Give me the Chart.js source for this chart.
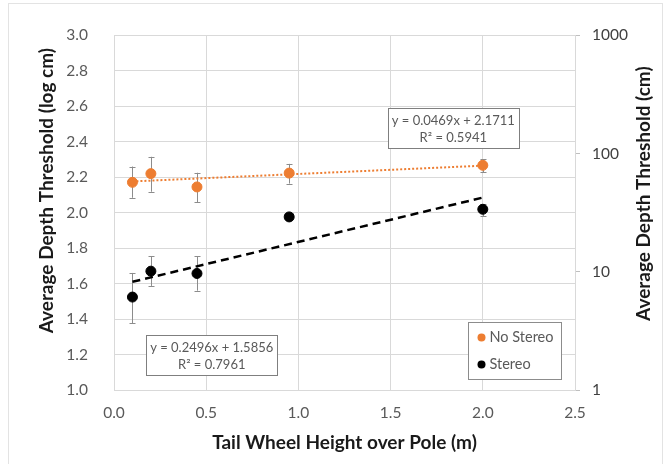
<!DOCTYPE html>
<html><head><meta charset="utf-8">
<script src="https://cdn.jsdelivr.net/npm/chart.js@4.4.0/dist/chart.umd.min.js"></script>
<style>
html,body{margin:0;padding:0;background:#fff;}
#wrap{position:relative;width:665px;height:464px;overflow:hidden;}
#frame{position:absolute;left:8px;top:3px;width:655px;height:470px;border:1px solid #e3e3e3;box-sizing:border-box;pointer-events:none;}
canvas{position:absolute;left:0;top:0;}
</style></head><body>
<div id="wrap"><canvas id="c" width="665" height="464"></canvas><div id="frame"></div></div>
<script>
// ---- data ----
const heights = [0.1, 0.2, 0.45, 0.95, 2.0];
const noStereo = [2.171, 2.220, 2.145, 2.223, 2.267];
const noStereoLow = [2.084, 2.118, 2.060, 2.164, 2.229];
const noStereoHigh = [2.260, 2.315, 2.225, 2.275, 2.300];
const stereo = [1.524, 1.670, 1.657, 1.976, 2.019];
const stereoLow = [1.376, 1.587, 1.560, 1.960, 1.980];
const stereoHigh = [1.660, 1.755, 1.755, 1.990, 2.048];
const trendX = [0.1, 2.0];
const noStereoTrend = [2.176, 2.265];
const stereoTrend = [1.610, 2.085];
const seriesNames = ['No Stereo', 'Stereo'];
const xTicks = [0, 0.5, 1.0, 1.5, 2.0, 2.5];
const xTickLabels = ['0.0', '0.5', '1.0', '1.5', '2.0', '2.5'];
const yTicks = [1.0, 1.2, 1.4, 1.6, 1.8, 2.0, 2.2, 2.4, 2.6, 2.8, 3.0];
const yTickLabels = ['1.0', '1.2', '1.4', '1.6', '1.8', '2.0', '2.2', '2.4', '2.6', '2.8', '3.0'];
const y2Ticks = [1, 10, 100, 1000];
const y2TickLabels = ['1', '10', '100', '1000'];
const xTitle = 'Tail Wheel Height over Pole (m)';
const yTitle = 'Average Depth Threshold (log cm)';
const y2Title = 'Average Depth Threshold (cm)';
const noStereoEq = ['y = 0.0469x + 2.1711', 'R\u00B2 = 0.5941'];
const stereoEq = ['y = 0.2496x + 1.5856', 'R\u00B2 = 0.7961'];

// ---- styles ----
const ORANGE = '#ED7D31';
const BLACK = '#000000';
const GRID = '#d9d9d9';
const TICK = '#595959';
const FONT = 'Lato';
const TITLE_SIZE = 19;
Chart.defaults.font.family = FONT;

const pts = (xs, ys) => xs.map((x, i) => ({x: x, y: ys[i]}));

const decor = {
  id: 'decor',
  beforeDatasetsDraw(chart) {
    const ctx = chart.ctx, xs = chart.scales.x, ys = chart.scales.y;
    const sets = [[noStereoLow, noStereoHigh], [stereoLow, stereoHigh]];
    ctx.save();
    ctx.strokeStyle = '#8c8c8c';
    ctx.lineWidth = 1;
    sets.forEach(([lo, hi]) => {
      heights.forEach((h, i) => {
        const x = Math.round(xs.getPixelForValue(h)) + 0.5;
        const y1 = ys.getPixelForValue(lo[i]);
        const y2 = ys.getPixelForValue(hi[i]);
        ctx.beginPath();
        ctx.moveTo(x, y1); ctx.lineTo(x, y2);
        ctx.moveTo(x - 3, Math.round(y1) + 0.5); ctx.lineTo(x + 3, Math.round(y1) + 0.5);
        ctx.moveTo(x - 3, Math.round(y2) + 0.5); ctx.lineTo(x + 3, Math.round(y2) + 0.5);
        ctx.stroke();
      });
    });
    ctx.restore();
  },
  afterDatasetsDraw(chart) {
    const ctx = chart.ctx, xs = chart.scales.x, ys = chart.scales.y, ca = chart.chartArea;
    ctx.save();
    // equation boxes
    const boxes = [[noStereoEq, 1.84, 2.48], [stereoEq, 0.53, 1.20]];
    boxes.forEach(([lines, bx, by]) => {
      const cx = xs.getPixelForValue(bx), cy = ys.getPixelForValue(by);
      const w = 131, h = 40;
      const l = Math.round(cx - w / 2) + 0.5, t = Math.round(cy - h / 2) + 0.5;
      ctx.fillStyle = '#ffffff';
      ctx.fillRect(l, t, w, h);
      ctx.strokeStyle = '#7f7f7f';
      ctx.lineWidth = 1;
      ctx.strokeRect(l, t, w, h);
      ctx.fillStyle = TICK;
      ctx.font = '13px ' + FONT;
      ctx.textAlign = 'center';
      ctx.textBaseline = 'middle';
      ctx.fillText(lines[0], cx, t + 12);
      ctx.fillText(lines[1], cx, t + 29);
    });
    // legend
    const lw = 93, lh = 57;
    const ll = Math.round(ca.right - 14 - lw) + 0.5, lt = Math.round(ca.bottom - 11 - lh) + 0.5;
    ctx.fillStyle = '#ffffff';
    ctx.fillRect(ll, lt, lw, lh);
    ctx.strokeStyle = '#8c8c8c';
    ctx.strokeRect(ll, lt, lw, lh);
    ctx.font = '14.5px ' + FONT;
    ctx.textAlign = 'left';
    ctx.textBaseline = 'middle';
    chart.data.datasets.filter(d => !d.isTrend).forEach((d, i) => {
      const yy = lt + 15 + i * 27;
      ctx.beginPath();
      ctx.fillStyle = d.backgroundColor;
      ctx.arc(ll + 13, yy, 4, 0, Math.PI * 2);
      ctx.fill();
      ctx.fillStyle = TICK;
      ctx.fillText(d.label, ll + 21, yy);
    });
    ctx.restore();
  },
  afterDraw(chart) {
    const ctx = chart.ctx, ca = chart.chartArea;
    const midY = (ca.top + ca.bottom) / 2 - 22;
    [[yTitle, ca.left - 67, midY], [y2Title, ca.right + 69, midY + 3]].forEach(([txt, x, y]) => {
      ctx.save();
      ctx.font = 'bold ' + TITLE_SIZE + 'px ' + FONT;
      ctx.fillStyle = '#1a1a1a';
      ctx.textAlign = 'center';
      ctx.textBaseline = 'middle';
      ctx.translate(x, y);
      ctx.rotate(-Math.PI / 2);
      ctx.fillText(txt, 0, 0);
      ctx.restore();
    });
  }
};

new Chart(document.getElementById('c'), {
  type: 'scatter',
  data: {
    datasets: [
      {label: seriesNames[0], data: pts(heights, noStereo), backgroundColor: ORANGE, borderColor: ORANGE,
       pointRadius: 5, pointHoverRadius: 5, order: 1},
      {label: seriesNames[1], data: pts(heights, stereo), backgroundColor: BLACK, borderColor: BLACK,
       pointRadius: 5, pointHoverRadius: 5, order: 1},
      {label: 'Linear (No Stereo)', isTrend: true, type: 'line', data: pts(trendX, noStereoTrend),
       borderColor: ORANGE, backgroundColor: ORANGE, borderWidth: 2, borderDash: [2, 2], pointRadius: 0, order: 2},
      {label: 'Linear (Stereo)', isTrend: true, type: 'line', data: pts(trendX, stereoTrend),
       borderColor: BLACK, backgroundColor: BLACK, borderWidth: 2.5, borderDash: [8, 5], pointRadius: 0, order: 2}
    ]
  },
  options: {
    responsive: false,
    animation: false,
    devicePixelRatio: 1,
    layout: {padding: {top: 21, left: 0, right: 0, bottom: 0}},
    plugins: {legend: {display: false}, tooltip: {enabled: false}},
    scales: {
      x: {
        type: 'linear', position: 'bottom', min: 0, max: 2.5,
        afterBuildTicks: s => { s.ticks = xTicks.map(v => ({value: v})); },
        afterFit: s => { s.height = 74; },
        grid: {color: GRID, drawTicks: false},
        border: {display: true, color: GRID},
        ticks: {color: TICK, font: {size: 15.5, family: FONT}, padding: 14, maxRotation: 0,
                callback: (v, i) => xTickLabels[i]},
        title: {display: true, text: xTitle, color: '#1a1a1a', font: {size: TITLE_SIZE, weight: 'bold', family: FONT},
                padding: {top: 0, bottom: 10}}
      },
      y: {
        type: 'linear', position: 'left', min: 1, max: 3,
        afterBuildTicks: s => { s.ticks = yTicks.map(v => ({value: v})); },
        afterFit: s => { s.width = 114; },
        grid: {color: GRID, drawTicks: false},
        border: {display: true, color: GRID},
        ticks: {color: TICK, font: {size: 15.5, family: FONT}, padding: 26,
                callback: (v, i) => yTickLabels[i]}
      },
      y2: {
        type: 'logarithmic', position: 'right', min: 1, max: 1000, display: true,
        afterBuildTicks: s => { s.ticks = y2Ticks.map(v => ({value: v})); },
        afterFit: s => { s.width = 90; },
        grid: {drawOnChartArea: false, drawTicks: true, tickLength: 5, color: '#bfbfbf'},
        border: {display: true, color: GRID},
        ticks: {color: '#404040', font: {size: 15.5, family: FONT}, padding: 12,
                callback: (v, i) => y2TickLabels[i]}
      }
    }
  },
  plugins: [decor]
});
</script>
</body></html>
